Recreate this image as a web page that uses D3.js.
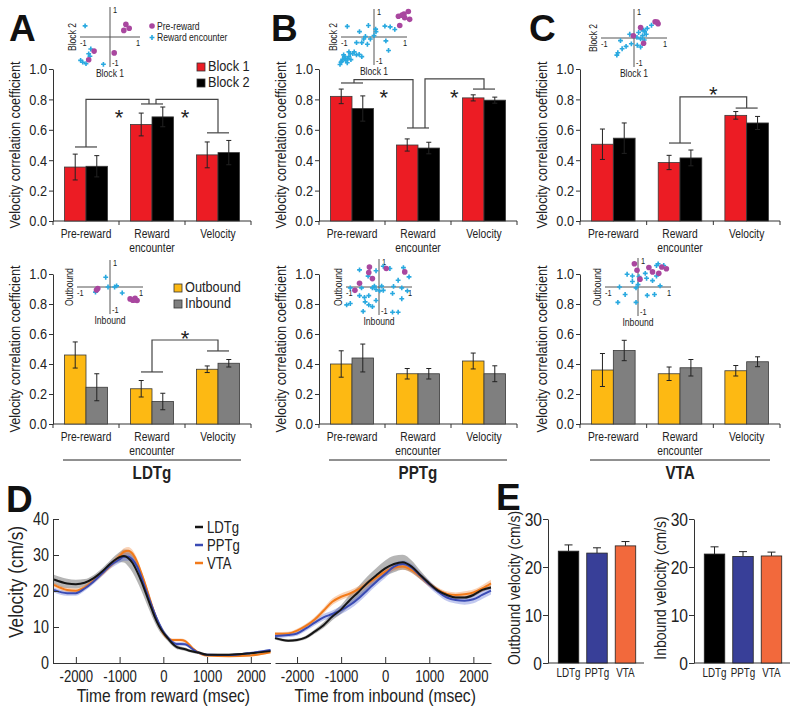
<!DOCTYPE html>
<html><head><meta charset="utf-8">
<script src="https://cdn.jsdelivr.net/npm/d3@7/dist/d3.min.js"></script>
<style>
body{margin:0;background:#fff}
svg{display:block}
text{font-family:"Liberation Sans",Arial,sans-serif;fill:#222}
</style></head><body><svg id="c" width="800" height="714"></svg>
<script>
// ---------------- DATA ----------------
const categories = ["Pre-reward","Reward encounter","Velocity"];
const blockSeries = ["Block 1","Block 2"];
const dirSeries = ["Outbound","Inbound"];
const corrTicks = [0,0.2,0.4,0.6,0.8,1.0];

// LDTg
const ldtgBlock1 = [0.355,0.635,0.435], ldtgBlock1Err = [0.085,0.075,0.085];
const ldtgBlock2 = [0.36,0.685,0.45],   ldtgBlock2Err = [0.07,0.065,0.08];
const ldtgOut = [0.46,0.235,0.365],     ldtgOutErr = [0.087,0.055,0.022];
const ldtgIn  = [0.245,0.15,0.405],     ldtgInErr  = [0.09,0.055,0.025];
// PPTg
const pptgBlock1 = [0.82,0.50,0.81],    pptgBlock1Err = [0.048,0.04,0.02];
const pptgBlock2 = [0.74,0.48,0.795],   pptgBlock2Err = [0.083,0.038,0.02];
const pptgOut = [0.40,0.335,0.42],      pptgOutErr = [0.088,0.035,0.053];
const pptgIn  = [0.44,0.335,0.335],     pptgInErr  = [0.093,0.035,0.053];
// VTA
const vtaBlock1 = [0.505,0.385,0.695],  vtaBlock1Err = [0.1,0.047,0.025];
const vtaBlock2 = [0.545,0.415,0.645],  vtaBlock2Err = [0.1,0.052,0.043];
const vtaOut = [0.36,0.335,0.355],      vtaOutErr = [0.11,0.045,0.035];
const vtaIn  = [0.49,0.375,0.415],      vtaInErr  = [0.068,0.055,0.033];

// inset scatter points [x, y]
const ldtgBlockPre = [[0.53,0.42],[0.46,0.22],[0.64,0.29],[-0.53,-0.47],[-0.71,-0.76],[0.14,-0.53]];
const ldtgBlockRew = [[-0.83,0.37],[-0.64,-0.4],[-0.71,-0.56],[-0.98,-0.78],[-0.8,-0.89],[-0.91,-0.84],[-0.22,-0.91],[-0.67,-0.64]];
const pptgBlockPre = [[0.74,0.74],[0.91,0.82],[1.04,0.91],[1.08,0.63],[0.93,0.69],[0.78,0.41],[0.85,0.78]];
const pptgBlockRew = [[-0.81,0.38],[-0.17,0.41],[0.33,0.39],[0.49,0.36],[0.63,0.27],[0.06,0.19],[0.05,0.28],[-0.44,0.19],[-0.26,0.02],[0.0,0.05],[-0.31,-0.07],[-0.11,-0.07],[-0.53,-0.2],[-0.37,-0.2],[-0.2,-0.26],[0.36,-0.14],[0.44,-0.48],[-0.76,-0.53],[-0.64,-0.59],[-0.53,-0.64],[-0.37,-0.7],[-0.92,-0.64],[-0.87,-0.76],[-0.98,-0.87],[-0.81,-0.92],[-1.03,-0.98],[-0.7,-0.81],[-0.9,-0.7],[-0.76,-0.7],[-0.6,-0.53],[-0.85,-0.85],[-0.95,-0.8],[-0.72,-0.6],[-1.0,-0.9],[-0.8,-0.78],[-0.45,-0.62]];
const vtaBlockPre = [[0.64,0.56],[0.73,0.49],[0.2,0.36],[-0.02,0.08],[0.29,-0.18],[0.7,0.55]];
const vtaBlockRew = [[0.53,0.44],[0.4,0.33],[0.29,0.27],[0.14,0.19],[0.26,0.08],[0.37,0.13],[-0.13,0.13],[0.09,0.02],[0.2,-0.03],[0.31,-0.07],[-0.41,-0.09],[-0.08,-0.2],[-0.24,-0.29],[-0.36,-0.37],[-0.49,-0.51],[-0.52,-0.59],[0.2,-0.31],[0.1,-0.25],[0.22,0.3],[0.32,0.22]];
const ldtgDirPre = [[-0.37,-0.06],[-0.41,-0.11],[0.61,-0.44],[0.76,-0.42],[0.82,-0.5],[0.69,-0.49],[0.74,-0.48]];
const ldtgDirRew = [[-0.13,0.36],[-0.06,0],[0.14,0],[0.2,0.04],[0.37,-0.22],[-0.44,-0.19],[-0.38,-0.07]];
const pptgDirPre = [[-0.29,0.71],[-0.31,0.52],[-0.59,0.13],[0.22,0.66],[0.78,0.54],[-0.73,-0.12],[-0.2,0.3]];
const pptgDirRew = [[-0.59,0.61],[-0.33,0.39],[-0.09,0.58],[0.13,0.74],[0.33,0.66],[0.74,0.69],[0.91,0.36],[0.58,0.24],[0.44,0.02],[0.69,-0.03],[0.86,-0.14],[-0.87,-0.03],[-0.53,-0.03],[-0.2,-0.03],[-0.09,-0.09],[0.02,-0.14],[0.13,-0.12],[-0.14,0.03],[0.08,0.03],[0.41,-0.23],[0.69,-0.42],[-0.31,-0.31],[-0.44,-0.37],[-0.59,-0.31],[-0.87,-0.59],[-0.98,-0.64],[-0.42,-0.53],[-0.31,-0.64],[-0.2,-0.7],[-0.09,-0.48],[-0.48,-0.87],[0.41,-0.9],[0.58,-0.9]];
const vtaDirPre = [[-0.11,0.8],[-0.03,0.58],[0.33,0.67],[0.44,0.52],[0.63,0.47],[0.72,0.69],[0.86,0.63],[0.06,0.27]];
const vtaDirRew = [[-0.33,0.44],[-0.17,0.38],[0.03,0.36],[0.22,0.47],[0.26,0.3],[0.56,0.74],[0.61,0.8],[0.78,0.74],[0.56,0.38],[0.44,0.22],[0,0.08],[-0.06,-0.03],[-0.56,0],[-0.39,-0.26],[0.28,-0.29],[0.5,-0.26],[0.67,0.04],[-0.61,-0.53],[-0.06,-0.53],[-0.17,0.19]];

// D: velocity traces
const regions = ["LDTg","PPTg","VTA"];
const tReward = [-2500,-2200,-2000,-1800,-1600,-1400,-1200,-1000,-900,-800,-700,-600,-500,-400,-300,-200,-100,0,100,200,300,400,500,600,700,800,1000,1500,2000,2450];
const ldtgRew = [23.2,22.1,21.9,22.3,23.5,25.4,27.7,29.4,29.7,29.1,27.7,25.4,22.6,19.4,16.1,12.9,10.3,8.4,6.9,5.5,4.5,4.1,3.8,3.4,3.1,2.9,2.3,2.3,2.7,3.3];
const ldtgRewSem = [1.3,1.3,1.2,1.0,0.9,0.9,1.0,1.4,1.8,2.3,2.6,2.7,2.6,2.4,2.0,1.6,1.3,1.0,0.8,0.7,0.6,0.5,0.5,0.4,0.4,0.4,0.3,0.3,0.3,0.3];
const pptgRew = [20.3,19.4,19.4,20.7,22.6,24.9,27.2,28.8,29.5,29.5,28.6,26.8,23.8,20.3,17.0,13.8,11.0,8.7,7.1,5.9,5.3,5.3,5.2,4.5,3.6,2.9,2.3,2.2,2.8,3.6];
const pptgRewSem = [0.7,0.7,0.7,0.7,0.7,0.8,0.9,1.0,1.1,1.1,1.1,1.0,1.0,0.9,0.8,0.7,0.6,0.5,0.5,0.5,0.5,0.5,0.5,0.4,0.4,0.3,0.3,0.3,0.3,0.3];
const vtaRew = [21.7,20.3,20.1,21.0,22.8,24.9,27.2,29.7,30.9,31.2,30.3,28.1,24.9,21.4,17.5,13.8,10.6,8.2,6.9,6.4,6.4,6.4,6.1,5.0,3.8,2.9,2.1,1.9,2.1,3.0];
const vtaRewSem = [0.6,0.6,0.6,0.6,0.6,0.7,0.8,0.9,1.0,1.0,1.0,0.9,0.8,0.8,0.7,0.6,0.5,0.5,0.4,0.4,0.4,0.4,0.4,0.4,0.3,0.3,0.3,0.2,0.2,0.3];
const tInbound = [-2500,-2200,-2000,-1800,-1600,-1400,-1200,-1000,-800,-600,-400,-200,0,200,400,600,800,1000,1200,1400,1600,1800,2000,2200,2400];
const ldtgInb = [6.9,6.2,6.4,7.1,8.7,10.5,12.9,14.9,17.5,19.8,22.3,24.4,26.3,27.5,28.0,26.8,24.4,22.1,20.1,18.9,18.2,18.2,18.9,20.3,21.0];
const ldtgInbSem = [0.4,0.4,0.4,0.5,0.6,0.8,1.0,1.2,1.5,1.6,1.8,2.0,2.2,2.3,2.1,1.7,1.2,0.8,0.6,0.5,0.5,0.5,0.5,0.5,0.6];
const pptgInb = [7.5,7.8,8.2,9.6,11.2,12.7,13.6,14.7,16.1,18.0,20.3,22.6,24.7,26.8,27.5,26.5,24.2,21.9,19.8,18.2,17.5,17.3,17.7,18.9,20.1];
const pptgInbSem = [0.6,0.6,0.6,0.7,0.8,0.9,1.0,1.1,1.1,1.1,1.1,1.1,1.1,1.0,1.0,1.0,0.9,0.9,0.9,1.0,1.0,1.1,1.1,1.1,1.1];
const vtaInb = [8.1,8.2,9.0,10.3,12.1,14.5,17.0,18.4,19.3,20.5,22.1,23.8,25.4,26.5,26.8,25.8,24.0,21.9,20.3,19.2,18.9,19.1,19.6,20.7,22.1];
const vtaInbSem = [0.5,0.5,0.5,0.6,0.7,0.8,0.9,0.9,0.9,0.9,0.9,0.8,0.8,0.8,0.8,0.8,0.8,0.7,0.7,0.7,0.7,0.8,0.8,0.9,1.0];
const timeTicks = [-2000,-1000,0,1000,2000];
const velTicks = [0,10,20,30,40];

// E: mean velocity
const outboundVel = [23.3,22.9,24.4], outboundVelErr = [1.3,1.1,0.9];
const inboundVel  = [22.7,22.2,22.3], inboundVelErr  = [1.5,1.0,0.8];
const meanVelTicks = [0,10,20,30];

// ---------------- DRAWING ----------------
const svg = d3.select("#c");
const AX = "#333";
const blockColors = ["#ec1c24","#000000"];
const dirColors = ["#fdb913","#7f7f7f"];
const magenta = "#a9479f", cyan = "#29a9e0";

function styleAxis(g, fs){
  g.attr("font-family",null).attr("font-size",null);
  g.selectAll("path,line").attr("stroke",AX).attr("stroke-width",1);
  g.selectAll("text").attr("font-size",fs).attr("fill","#222");
}

function letter(t,x,y){
  svg.append("text").attr("x",x).attr("y",y).attr("font-size",37).attr("font-weight","bold").attr("class","nc")
    .style("fill","#111").text(t);
}

function barPanel(o){
  const g = svg.append("g");
  const x = d3.scaleBand().domain(categories).range([o.x0,o.x1]);
  const xi = d3.scaleBand().domain([0,1]).range([0,x.bandwidth()]).paddingInner(0).paddingOuter(0.53);
  const y = d3.scaleLinear().domain([0,1]).range([o.yBot,o.yTop]);
  const cx = i => x(categories[i]) + x.bandwidth()/2;

  const ya = g.append("g").attr("transform",`translate(${o.x0},0)`)
    .call(d3.axisLeft(y).tickValues(corrTicks).tickFormat(d3.format(".1f")).tickSize(4).tickSizeOuter(0).tickPadding(2));
  styleAxis(ya,15.5);
  g.append("text").attr("transform",`translate(${o.x0-33},${(o.yTop+o.yBot)/2}) rotate(-90)`)
    .attr("text-anchor","middle").attr("font-size",15.5).text("Velocity correlation coefficient");

  g.append("line").attr("x1",o.x0).attr("x2",o.x1).attr("y1",o.yBot).attr("y2",o.yBot).attr("stroke",AX);
  const bounds = categories.map(c=>x(c)).concat([o.x1]);
  g.selectAll(".xt").data(bounds).join("line").attr("x1",d=>d).attr("x2",d=>d)
    .attr("y1",o.yBot).attr("y2",o.yBot+4).attr("stroke",AX);
  categories.forEach((c,i)=>{
    c.split(" ").forEach((w,k)=> g.append("text").attr("text-anchor","middle").attr("font-size",12.5)
      .attr("x",cx(i)).attr("y",o.yBot+17+k*14.2).text(w));
  });

  const series = [o.s1,o.s2], errs = [o.e1,o.e2];
  series.forEach((vals,j)=>{
    vals.forEach((v,i)=>{
      const bx = x(categories[i]) + xi(j);
      g.append("rect").attr("x",bx).attr("y",y(v)).attr("width",xi.bandwidth()).attr("height",o.yBot-y(v))
        .attr("fill",o.colors[j]).attr("stroke","#3a3a3a").attr("stroke-width",0.8);
    });
  });
  series.forEach((vals,j)=>{
    vals.forEach((v,i)=>{
      const mx = x(categories[i]) + xi(j) + xi.bandwidth()/2, e = errs[j][i];
      g.append("line").attr("x1",mx).attr("x2",mx).attr("y1",y(v-e)).attr("y2",y(v+e)).attr("stroke","#222");
      [v-e,v+e].forEach(q=> g.append("line").attr("x1",mx-2.5).attr("x2",mx+2.5).attr("y1",y(q)).attr("y2",y(q)).attr("stroke","#222"));
    });
  });

  if(o.sig){
    o.sig.caps.forEach(([i,v])=> g.append("line").attr("x1",cx(i)-11).attr("x2",cx(i)+11).attr("y1",y(v)).attr("y2",y(v)).attr("stroke","#444").attr("stroke-width",1.2));
    o.sig.lines.forEach(pts=>{
      g.append("path").attr("d",d3.line()(pts.map(([i,dx,v])=>[cx(i)+dx,y(v)]))).attr("fill","none").attr("stroke","#444").attr("stroke-width",1.2);
    });
    o.sig.stars.forEach(([p,v])=>{
      const px = cx(Math.floor(p)) + (p%1)*x.step();
      g.append("text").attr("class","nc").attr("x",px).attr("y",y(v)).attr("dy","0.62em").attr("text-anchor","middle").attr("font-size",22).text("*");
    });
  }
  if(o.legend){
    o.legend.forEach((name,j)=>{
      const ly = o.legendY + j*16;
      g.append("rect").attr("x",o.legendX).attr("y",ly-8).attr("width",8).attr("height",8).attr("fill",o.colors[j]).attr("stroke","#333").attr("stroke-width",0.8);
      g.append("text").attr("x",o.legendX+11).attr("y",ly).attr("font-size",o.legendFs).text(name);
    });
  }
  if(o.region){
    g.append("line").attr("x1",o.x0+10).attr("x2",o.x1-10).attr("y1",o.yBot+36).attr("y2",o.yBot+36).attr("stroke","#222");
    g.append("text").attr("x",(o.x0+o.x1)/2).attr("y",o.yBot+55).attr("text-anchor","middle").attr("font-size",18.5).attr("font-weight","bold").text(o.region);
  }
}

function inset(o){
  const g = svg.append("g");
  const sx = d3.scaleLinear().domain([-1,1]).range([o.cx-o.hx,o.cx+o.hx]);
  const sy = d3.scaleLinear().domain([-1,1]).range([o.cy+o.hy,o.cy-o.hy]);
  g.append("line").attr("x1",sx(-1)).attr("x2",sx(1)).attr("y1",sy(0)).attr("y2",sy(0)).attr("stroke","#555");
  g.append("line").attr("x1",sx(0)).attr("x2",sx(0)).attr("y1",sy(1)).attr("y2",sy(-1)).attr("stroke","#555");
  const fs = 9;
  g.append("text").attr("x",sx(0)+3).attr("y",sy(1)+6).attr("font-size",fs).text("1");
  g.append("text").attr("x",sx(-1)).attr("y",sy(0)+9).attr("font-size",fs).text("-1");
  g.append("text").attr("x",sx(1)).attr("y",sy(0)+9).attr("text-anchor","end").attr("font-size",fs).text("1");
  g.append("text").attr("x",sx(0)+2).attr("y",sy(-1)-1).attr("font-size",fs).text("-1");
  g.append("text").attr("x",sx(0)).attr("y",sy(-1)+10).attr("text-anchor","middle").attr("font-size",10.5).text(o.xl);
  g.append("text").attr("transform",`translate(${sx(-1)-4},${sy(0)}) rotate(-90)`).attr("text-anchor","middle").attr("font-size",10.5).text(o.yl);
  g.selectAll(".cy").data(o.rew).join("path").attr("d",d3.symbol(d3.symbolCross,13)())
    .attr("transform",d=>`translate(${sx(d[0])},${sy(d[1])})`).attr("fill",cyan);
  g.selectAll(".mg").data(o.pre).join("circle").attr("cx",d=>sx(d[0])).attr("cy",d=>sy(d[1])).attr("r",2.8).attr("fill",magenta);
  if(o.legend){
    g.append("circle").attr("cx",152).attr("cy",26).attr("r",2.8).attr("fill",magenta);
    g.append("text").attr("x",157).attr("y",29.5).attr("font-size",10.5).text("Pre-reward");
    g.append("path").attr("d",d3.symbol(d3.symbolCross,13)()).attr("transform","translate(152,37.5)").attr("fill",cyan);
    g.append("text").attr("x",157).attr("y",41).attr("font-size",10.5).text("Reward encounter");
  }
}

const sigAtop = {caps:[[0,0.487],[1,0.77],[2,0.58]],
  lines:[[[0,0,0.487],[0,0,0.80],[1,-3,0.80],[1,-3,0.77]],[[1,4,0.77],[1,4,0.80],[2,0,0.80],[2,0,0.58]]],
  stars:[[0.5,0.72],[1.5,0.72]]};
const sigAbot = {caps:[[1,0.347],[2,0.487]], lines:[[[1,0,0.347],[1,0,0.56],[2,0,0.56],[2,0,0.487]]], stars:[[1.5,0.61]]};
const sigBtop = {caps:[[0,0.908],[1,0.612],[2,0.868]],
  lines:[[[0,2,0.908],[0,2,0.93],[1,-5,0.93],[1,-5,0.612]],[[1,7,0.612],[1,7,0.935],[2,0,0.935],[2,0,0.868]]],
  stars:[[0.48,0.85],[1.55,0.85]]};
const sigCtop = {caps:[[1,0.513],[2,0.743]], lines:[[[1,0,0.513],[1,0,0.816],[2,0,0.816],[2,0,0.743]]], stars:[[1.5,0.875]]};

const TOP = {yTop:69,yBot:221}, BOT = {yTop:274,yBot:424};
barPanel({...TOP,x0:53,x1:251,s1:ldtgBlock1,s2:ldtgBlock2,e1:ldtgBlock1Err,e2:ldtgBlock2Err,colors:blockColors,sig:sigAtop,legend:blockSeries,legendX:197,legendY:71,legendFs:15.5});
barPanel({...BOT,x0:53,x1:251,s1:ldtgOut,s2:ldtgIn,e1:ldtgOutErr,e2:ldtgInErr,colors:dirColors,sig:sigAbot,legend:dirSeries,legendX:174,legendY:292,legendFs:15.5,region:"LDTg"});
barPanel({...TOP,x0:319,x1:517,s1:pptgBlock1,s2:pptgBlock2,e1:pptgBlock1Err,e2:pptgBlock2Err,colors:blockColors,sig:sigBtop});
barPanel({...BOT,x0:319,x1:517,s1:pptgOut,s2:pptgIn,e1:pptgOutErr,e2:pptgInErr,colors:dirColors,region:"PPTg"});
barPanel({...TOP,x0:580,x1:780,s1:vtaBlock1,s2:vtaBlock2,e1:vtaBlock1Err,e2:vtaBlock2Err,colors:blockColors,sig:sigCtop});
barPanel({...BOT,x0:580,x1:780,s1:vtaOut,s2:vtaIn,e1:vtaOutErr,e2:vtaInErr,colors:dirColors,region:"VTA"});

inset({cx:110,cy:37,hx:30,hy:30,xl:"Block 1",yl:"Block 2",pre:ldtgBlockPre,rew:ldtgBlockRew,legend:true});
inset({cx:374,cy:37,hx:33,hy:28,xl:"Block 1",yl:"Block 2",pre:pptgBlockPre,rew:pptgBlockRew});
inset({cx:634,cy:38,hx:33,hy:29,xl:"Block 1",yl:"Block 2",pre:vtaBlockPre,rew:vtaBlockRew});
inset({cx:110,cy:287,hx:33,hy:27,xl:"Inbound",yl:"Outbound",pre:ldtgDirPre,rew:ldtgDirRew});
inset({cx:379,cy:287,hx:33,hy:28,xl:"Inbound",yl:"Outbound",pre:pptgDirPre,rew:pptgDirRew});
inset({cx:638,cy:287,hx:33,hy:29,xl:"Inbound",yl:"Outbound",pre:vtaDirPre,rew:vtaDirRew});

letter("A",9,41); letter("B",271,41); letter("C",529,41); letter("D",6,512); letter("E",496,510);

// ---- panel D ----
const lineColors = {LDTg:"#151515",PPTg:"#3a4bb4",VTA:"#f27a1a"};
const bandColors = {LDTg:"rgba(120,120,120,0.55)",PPTg:"rgba(80,100,210,0.35)",VTA:"rgba(242,130,50,0.35)"};
const yV = d3.scaleLinear().domain([0,40]).range([663,519]);
function tracePanel(o){
  const g = svg.append("g");
  const x = d3.scaleLinear().domain(o.domain).range(o.range);
  const xa = g.append("g").attr("transform","translate(0,663)")
    .call(d3.axisBottom(x).tickValues(timeTicks).tickSize(-6).tickSizeOuter(0).tickPadding(8).tickFormat(d=> d<0 ? "-"+Math.abs(d) : String(d)));
  styleAxis(xa,16);
  g.append("text").attr("x",x(0)).attr("y",702).attr("text-anchor","middle").attr("font-size",19).text(o.label);
  const area = d3.area().curve(d3.curveMonotoneX);
  const line = d3.line().curve(d3.curveMonotoneX);
  o.series.forEach(s=>{
    g.append("path").attr("d",area.x((d,i)=>x(o.t[i])).y0((d,i)=>yV(d-s.sem[i])).y1((d,i)=>yV(d+s.sem[i]))(s.v))
      .attr("fill",bandColors[s.name]);
  });
  o.series.slice().reverse().forEach(s=>{
    g.append("path").attr("d",line.x((d,i)=>x(o.t[i])).y(d=>yV(d))(s.v)).attr("fill","none")
      .attr("stroke",lineColors[s.name]).attr("stroke-width",2);
  });
}
tracePanel({domain:[-2500,2450],range:[54,270.5],t:tReward,label:"Time from reward (msec)",
  series:[{name:"LDTg",v:ldtgRew,sem:ldtgRewSem},{name:"PPTg",v:pptgRew,sem:pptgRewSem},{name:"VTA",v:vtaRew,sem:vtaRewSem}]});
tracePanel({domain:[-2500,2400],range:[275,491],t:tInbound,label:"Time from inbound (msec)",
  series:[{name:"LDTg",v:ldtgInb,sem:ldtgInbSem},{name:"PPTg",v:pptgInb,sem:pptgInbSem},{name:"VTA",v:vtaInb,sem:vtaInbSem}]});
{
  const ya = svg.append("g").attr("transform","translate(53,0)")
    .call(d3.axisLeft(yV).tickValues(velTicks).tickSize(-6).tickSizeOuter(0).tickPadding(4));
  styleAxis(ya,17.5);
  svg.append("text").attr("transform","translate(23,582) rotate(-90)").attr("text-anchor","middle").attr("font-size",21).text("Velocity (cm/s)");
  regions.forEach((r,i)=>{
    const ly = 527 + i*18;
    svg.append("line").attr("x1",195).attr("x2",203).attr("y1",ly).attr("y2",ly).attr("stroke",lineColors[r]).attr("stroke-width",2.5);
    svg.append("text").attr("x",207).attr("y",ly+5.5).attr("font-size",16).text(r);
  });
}

// ---- panel E ----
const eColors = ["#000000","#383f98","#f2693c"];
function meanPanel(o){
  const g = svg.append("g");
  const y = d3.scaleLinear().domain([0,30]).range([663,519]);
  const x = d3.scaleBand().domain(regions).range([o.x0+6,o.x0+92]).paddingInner(0.28).paddingOuter(0.15);
  const ya = g.append("g").attr("transform",`translate(${o.x0},0)`)
    .call(d3.axisLeft(y).tickValues(meanVelTicks).tickSize(5).tickSizeOuter(0).tickPadding(1));
  styleAxis(ya,19);
  g.append("line").attr("x1",o.x0).attr("x2",o.x0+96).attr("y1",663).attr("y2",663).attr("stroke",AX);
  regions.forEach((r,i)=>{
    const v = o.v[i], e = o.e[i], bx = x(r), mx = bx + x.bandwidth()/2;
    g.append("line").attr("x1",mx).attr("x2",mx).attr("y1",y(v)).attr("y2",y(v+e)).attr("stroke","#222");
    g.append("line").attr("x1",mx-4).attr("x2",mx+4).attr("y1",y(v+e)).attr("y2",y(v+e)).attr("stroke","#222");
    g.append("rect").attr("x",bx).attr("y",y(v)).attr("width",x.bandwidth()).attr("height",663-y(v))
      .attr("fill",eColors[i]).attr("stroke","#222").attr("stroke-width",0.8);
    g.append("text").attr("x",mx).attr("y",677).attr("text-anchor","middle").attr("font-size",12).text(r);
  });
  g.append("text").attr("transform",`translate(${o.x0-28},588) rotate(-90)`).attr("text-anchor","middle").attr("font-size",17).text(o.label);
}
meanPanel({x0:548,v:outboundVel,e:outboundVelErr,label:"Outbound velocity (cm/s)"});
meanPanel({x0:694,v:inboundVel,e:inboundVelErr,label:"Inbound velocity (cm/s)"});

// condense all text horizontally (narrow typeface look)
svg.selectAll("text").filter(function(){ return !this.classList.contains("nc"); }).each(function(){
  const L = this.getComputedTextLength();
  if(L>0){ this.setAttribute("textLength", (L*0.82).toFixed(2)); this.setAttribute("lengthAdjust","spacingAndGlyphs"); }
});
</script></body></html>
